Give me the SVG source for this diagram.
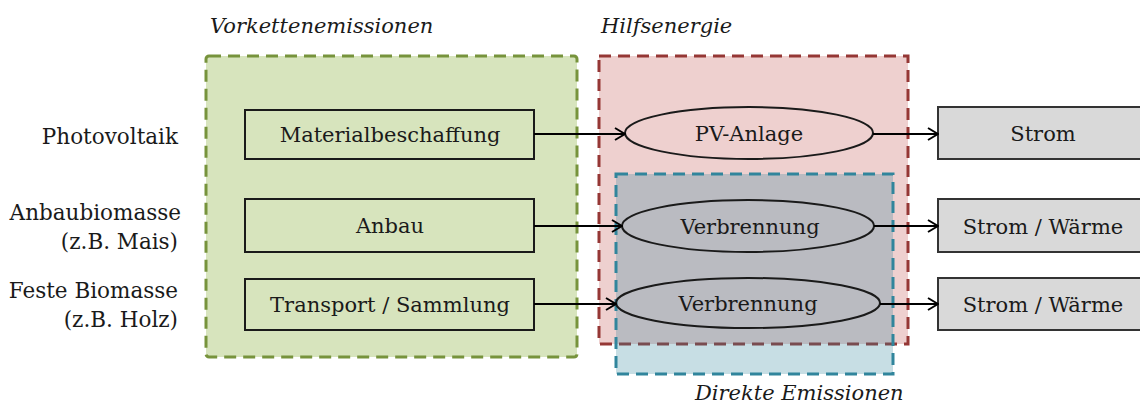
<svg xmlns="http://www.w3.org/2000/svg" width="1140" height="405" viewBox="0 0 1140 405">
<defs>
<style>
text{font-family:"DejaVu Serif","Liberation Serif",serif;font-size:21px;fill:#1a1a1a}
.lab{font-size:21.5px}
.it{font-style:italic}
.c{text-anchor:middle}
.r{text-anchor:end}
.box{fill:none;stroke:#1a1a1a;stroke-width:2}
.out{fill:#d9d9d9;stroke:#333;stroke-width:2}
.ell{fill:none;stroke:#1a1a1a;stroke-width:2}
.conn{stroke:#000;stroke-width:2;fill:none;marker-end:url(#arr)}
.dash{stroke-width:3;stroke-dasharray:12,7}
</style>
<marker id="arr" markerWidth="12" markerHeight="14" refX="11" refY="7" orient="auto" markerUnits="userSpaceOnUse">
<path d="M1,1 L11,7 L1,13" fill="none" stroke="#000" stroke-width="2"/>
</marker>
</defs>
<rect width="1140" height="405" fill="#fff"/>
<g id="vorkette">
<rect class="dash" x="206" y="56" width="371" height="301" rx="3" fill="#9bbb59" fill-opacity="0.4" stroke="#77933c"/>
<text class="it" x="210" y="33">Vorkettenemissionen</text>
</g>
<g id="hilfsenergie">
<rect class="dash" x="599" y="56" width="309" height="288" fill="#c0504d" fill-opacity="0.27" stroke="#953735"/>
<text class="it" x="601" y="33">Hilfsenergie</text>
</g>
<g id="direkt">
<rect class="dash" x="616" y="174" width="277" height="200" fill="#31859c" fill-opacity="0.27" stroke="#31859c"/>
<text class="it" x="695" y="400">Direkte Emissionen</text>
</g>
<g id="labels">
<text class="r lab" x="178" y="144">Photovoltaik</text>
<text class="r lab" x="181" y="220">Anbaubiomasse</text>
<text class="r lab" x="178" y="249">(z.B. Mais)</text>
<text class="r lab" x="178" y="298">Feste Biomasse</text>
<text class="r lab" x="178" y="327">(z.B. Holz)</text>
</g>
<g id="material"><rect class="box" x="245" y="110" width="289" height="49"/><text class="c" x="390" y="142">Materialbeschaffung</text></g>
<g id="anbau"><rect class="box" x="245" y="199" width="289" height="53"/><text class="c" x="390" y="233">Anbau</text></g>
<g id="transport"><rect class="box" x="245" y="279" width="289" height="51"/><text class="c" x="390" y="312">Transport / Sammlung</text></g>
<g id="pv"><ellipse class="ell" cx="749" cy="133" rx="124" ry="26"/><text class="c" x="749" y="141">PV-Anlage</text></g>
<g id="verb1"><ellipse class="ell" cx="748" cy="226" rx="126" ry="26"/><text class="c" x="750" y="234">Verbrennung</text></g>
<g id="verb2"><ellipse class="ell" cx="748" cy="303" rx="132" ry="25"/><text class="c" x="748" y="311">Verbrennung</text></g>
<g id="strom"><rect class="out" x="938" y="107" width="212" height="52"/><text class="c" x="1043" y="141">Strom</text></g>
<g id="sw1"><rect class="out" x="938" y="199" width="212" height="53"/><text class="c" x="1043" y="234">Strom / Wärme</text></g>
<g id="sw2"><rect class="out" x="938" y="278" width="212" height="52"/><text class="c" x="1043" y="312">Strom / Wärme</text></g>
<g id="connectors">
<line class="conn" x1="534" y1="134" x2="625" y2="134"/>
<line class="conn" x1="534" y1="226" x2="622" y2="226"/>
<line class="conn" x1="534" y1="304" x2="616" y2="304"/>
<line class="conn" x1="873" y1="134" x2="938" y2="134"/>
<line class="conn" x1="874" y1="226" x2="938" y2="226"/>
<line class="conn" x1="880" y1="304" x2="938" y2="304"/>
</g>
</svg>
